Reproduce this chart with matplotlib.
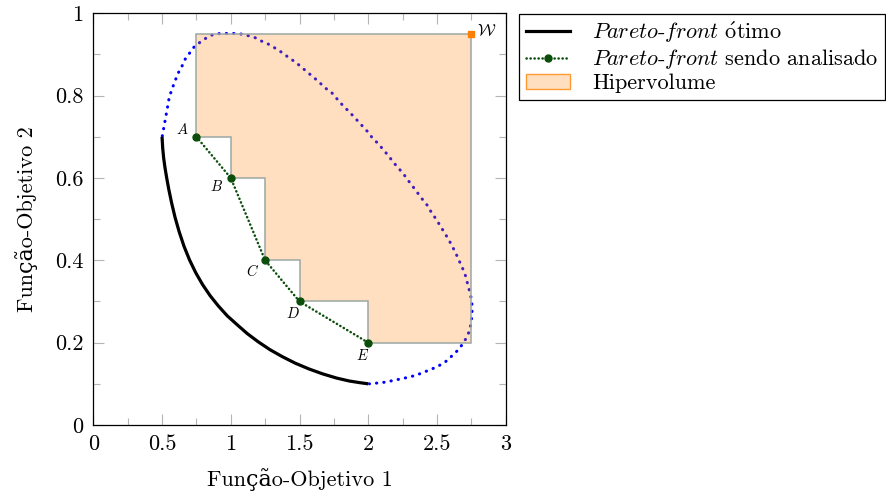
import matplotlib
matplotlib.use("Agg")
import matplotlib.pyplot as plt
from matplotlib.lines import Line2D
from matplotlib.patches import Patch, Polygon

plt.rcParams["font.family"] = ["cmr10", "DejaVu Serif"]
plt.rcParams["mathtext.fontset"] = "cm"
plt.rcParams["axes.unicode_minus"] = False
plt.rcParams["axes.formatter.use_mathtext"] = True

# Optimal Pareto front (solid black curve)
optimal_x = [0.500, 0.505, 0.512, 0.522, 0.535, 0.550, 0.570, 0.595, 0.625, 0.660, 0.700,
             0.745, 0.795, 0.850, 0.910, 0.975, 1.045, 1.120, 1.200, 1.285, 1.375, 1.470,
             1.570, 1.670, 1.770, 1.860, 1.935, 2.000]
optimal_y = [0.700, 0.672, 0.648, 0.624, 0.598, 0.571, 0.539, 0.504, 0.469, 0.434, 0.401,
             0.370, 0.341, 0.314, 0.289, 0.265, 0.244, 0.222, 0.202, 0.183, 0.166, 0.150,
             0.136, 0.124, 0.114, 0.107, 0.103, 0.100]

# Boundary of the feasible objective region (dotted blue curve)
boundary_x = [0.502, 0.534, 0.553, 0.575, 0.595, 0.616, 0.643, 0.667, 0.702, 0.735, 0.782, 0.830,
              0.881, 0.939, 0.997, 1.055, 1.111, 1.170, 1.220, 1.274, 1.325, 1.376, 1.419, 1.468,
              1.512, 1.557, 1.601, 1.645, 1.686, 1.735, 1.796, 1.837, 1.878, 1.917, 1.958, 1.997,
              2.033, 2.074, 2.106, 2.147, 2.183, 2.220, 2.256, 2.293, 2.325, 2.361, 2.397, 2.431,
              2.460, 2.494, 2.525, 2.555, 2.584, 2.613, 2.640, 2.664, 2.686, 2.707, 2.722, 2.737,
              2.751, 2.756, 2.754, 2.749, 2.737, 2.713, 2.681, 2.647, 2.603, 2.560, 2.509, 2.456,
              2.402, 2.349, 2.293, 2.237, 2.179, 2.123, 2.067, 2.009]
boundary_y = [0.702, 0.761, 0.797, 0.818, 0.836, 0.854, 0.870, 0.888, 0.904, 0.919, 0.931, 0.942,
              0.950, 0.951, 0.951, 0.951, 0.947, 0.942, 0.933, 0.925, 0.915, 0.904, 0.893, 0.882,
              0.870, 0.857, 0.845, 0.832, 0.819, 0.807, 0.783, 0.769, 0.755, 0.741, 0.726, 0.712,
              0.696, 0.683, 0.670, 0.654, 0.638, 0.624, 0.610, 0.593, 0.579, 0.563, 0.547, 0.533,
              0.516, 0.500, 0.483, 0.467, 0.451, 0.433, 0.415, 0.397, 0.381, 0.363, 0.344, 0.325,
              0.305, 0.286, 0.267, 0.249, 0.229, 0.211, 0.194, 0.180, 0.166, 0.153, 0.143, 0.135,
              0.128, 0.121, 0.116, 0.112, 0.108, 0.104, 0.102, 0.100]

# Pareto front under analysis
front_labels = ["A", "B", "C", "D", "E"]
front_x = [0.75, 1.00, 1.25, 1.50, 2.00]
front_y = [0.70, 0.60, 0.40, 0.30, 0.20]

# Reference point W
ref_x, ref_y = 2.75, 0.95

x_ticks = [0, 0.5, 1, 1.5, 2, 2.5, 3]
x_ticklabels = ["0", "0.5", "1", "1.5", "2", "2.5", "3"]
y_ticks = [0, 0.2, 0.4, 0.6, 0.8, 1]
y_ticklabels = ["0", "0.2", "0.4", "0.6", "0.8", "1"]

W, H = 886, 493
fig = plt.figure(figsize=(W / 100, H / 100), dpi=100)
ax = fig.add_axes([93.3 / W, 1 - 425 / H, 412.4 / W, 411.7 / H])

orange_fill = (1.0, 0.5, 0.0, 0.25)
step_edge = "#9da7a3"
green = "#0b4d0b"

# Dotted boundary drawn first so the translucent fill tints it
ax.plot(boundary_x, boundary_y, color="#0000ff", lw=2.2,
        linestyle=(0, (0.1, 2.3)), dash_capstyle="round", zorder=1)

# Hypervolume staircase polygon dominated by the front, bounded by W
verts = [(front_x[0], ref_y), (ref_x, ref_y), (ref_x, front_y[-1])]
for i in range(len(front_x) - 1, 0, -1):
    verts.append((front_x[i], front_y[i]))
    verts.append((front_x[i], front_y[i - 1]))
verts.append((front_x[0], front_y[0]))
ax.add_patch(Polygon(verts, closed=True, facecolor=orange_fill, edgecolor="none", zorder=2))
ax.add_patch(Polygon(verts, closed=True, facecolor="none", edgecolor=step_edge, lw=1.1, zorder=3))

ax.plot(optimal_x, optimal_y, color="black", lw=2.3, solid_capstyle="butt",
        solid_joinstyle="round", zorder=4)

ax.plot(front_x, front_y, color=green, lw=1.8, linestyle=(0, (0.1, 1.5)),
        dash_capstyle="round", marker="o", markersize=5, markerfacecolor=green,
        markeredgecolor=green, zorder=5)

offsets = {"A": (-10, 5), "B": (-10, -6), "C": (-9, -8), "D": (-5, -9), "E": (-4, -9)}
for name, px, py in zip(front_labels, front_x, front_y):
    ax.annotate(f"${name}$", (px, py), xytext=offsets[name], textcoords="offset points",
                ha="center", va="center", fontsize=10.5, zorder=6)

ax.plot([ref_x], [ref_y], marker="s", markersize=4.5, color="#ff8000", zorder=6)
ax.annotate(r"$\mathcal{W}$", (ref_x, ref_y), xytext=(4, 2), textcoords="offset points",
            ha="left", va="center", fontsize=12, zorder=6)

ax.set_xlim(0, 3)
ax.set_ylim(0, 1)
ax.set_xticks(x_ticks)
ax.set_xticklabels(x_ticklabels)
ax.set_yticks(y_ticks)
ax.set_yticklabels(y_ticklabels)
ax.set_xticks([0.25, 0.75, 1.25, 1.75, 2.25, 2.75], minor=True)
ax.set_yticks([0.1, 0.3, 0.5, 0.7, 0.9], minor=True)
ax.tick_params(which="both", direction="in", top=True, right=True, color="#b5b5b5",
               width=0.8, labelsize=16)
ax.tick_params(which="major", length=8)
ax.tick_params(which="minor", length=5)
ax.tick_params(axis="x", pad=7)
ax.tick_params(axis="y", pad=7)
for s in ax.spines.values():
    s.set_linewidth(0.9)
    s.set_color("black")

ax.set_xlabel("Função-Objetivo 1", fontsize=16, labelpad=10)
ax.set_ylabel("Função-Objetivo 2", fontsize=16, labelpad=12)

handles = [
    Line2D([], [], color="black", lw=2.3),
    Line2D([], [], color=green, lw=1.8, linestyle=(0, (0.1, 1.5)), dash_capstyle="round",
           marker="o", markersize=5, markevery=[1]),
    Patch(facecolor=orange_fill, edgecolor="#ff9a33", lw=1.0),
]
labels = [
    r"$\mathit{Pareto}$-$\mathit{front}$ $\mathrm{\acute{o}}$timo",
    r"$\mathit{Pareto}$-$\mathit{front}$ sendo analisado",
    "Hipervolume",
]
leg = fig.legend(handles, labels, loc="upper left", bbox_to_anchor=(519 / W, 1 - 13.5 / H),
                 fontsize=16, frameon=True, fancybox=False, framealpha=1, edgecolor="black",
                 handlelength=2.0, handletextpad=1.0, labelspacing=0.1, borderpad=0.3,
                 borderaxespad=0)
leg.get_frame().set_linewidth(0.9)

fig.savefig("out.png", dpi=100)
